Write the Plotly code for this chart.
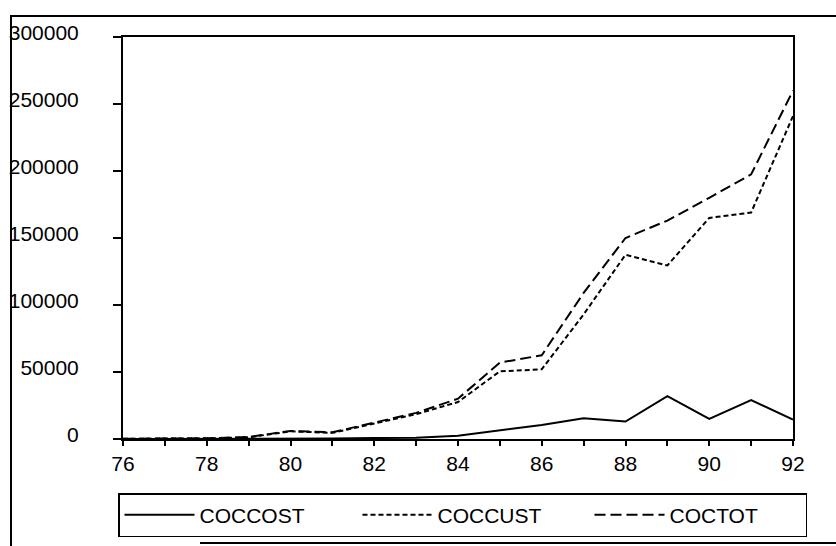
import plotly.graph_objects as go

# Years 1976-1992 (two-digit labels on the axis)
years = [76, 77, 78, 79, 80, 81, 82, 83, 84, 85, 86, 87, 88, 89, 90, 91, 92]

coccost = [0, 0, 100, 200, 300, 400, 700, 1000, 2500, 6300, 10500, 15500, 13000, 32000, 15000, 29000, 14500]
coccust = [200, 300, 400, 1300, 5700, 4600, 11800, 18500, 27600, 50500, 52000, 93000, 137500, 129500, 165000, 169000, 241000]
coctot = [200, 300, 500, 1500, 6000, 5000, 12500, 19500, 30100, 57000, 62500, 109000, 150000, 163000, 180000, 197500, 260000]

y_ticks = [0, 50000, 100000, 150000, 200000, 250000, 300000]
x_ticks = [76, 78, 80, 82, 84, 86, 88, 90, 92]

W, H = 836, 546
L, R, T, B = 123, 793, 37, 439
FONT = "Liberation Sans, Arial, sans-serif"


def px_x(px):
    return (px - L) / (R - L)


def px_y(py):
    return (B - py) / (B - T)


fig = go.Figure()
fig.add_trace(go.Scatter(x=years, y=coccost, name="COCCOST", mode="lines", legendwidth=153,
                         line=dict(color="black", width=2, dash="solid")))
fig.add_trace(go.Scatter(x=years, y=coccust, name="COCCUST", mode="lines", legendwidth=147,
                         line=dict(color="black", width=2, dash="5px,3px")))
fig.add_trace(go.Scatter(x=years, y=coctot, name="COCTOT", mode="lines", legendwidth=131,
                         line=dict(color="black", width=2, dash="11px,5px")))

# outer frame around the whole chart
frame = dict(type="line", xref="paper", yref="paper", line=dict(color="black", width=2))
shapes = [
    dict(frame, x0=px_x(10), x1=px_x(836), y0=px_y(16), y1=px_y(16)),
    dict(frame, x0=px_x(11), x1=px_x(11), y0=px_y(16), y1=px_y(546)),
    dict(frame, x0=px_x(200), x1=px_x(836), y0=px_y(543), y1=px_y(543)),
]

fig.update_layout(
    width=W, height=H,
    margin=dict(l=L, r=W - R, t=T, b=H - B, pad=0, autoexpand=False),
    paper_bgcolor="white", plot_bgcolor="white",
    font=dict(family=FONT, size=21, color="black"),
    showlegend=True,
    legend=dict(
        orientation="h", x=px_x(118), y=px_y(493), xanchor="left", yanchor="top",
        bordercolor="black", borderwidth=1.5, bgcolor="white",
        font=dict(family=FONT, size=21, color="black"),
        itemwidth=70, entrywidthmode="pixels",
        tracegroupgap=0, itemclick=False,
    ),
    shapes=shapes,
    xaxis=dict(
        range=[76, 92], tickvals=x_ticks, ticktext=[str(v) for v in x_ticks],
        showline=True, linecolor="black", linewidth=2, mirror=True,
        ticks="outside", ticklen=5, tickwidth=1.5, tickcolor="black",
        minor=dict(dtick=1, ticks="outside", ticklen=5, tickwidth=1.5, tickcolor="black"),
        showgrid=False, zeroline=False, ticklabelstandoff=0,
    ),
    yaxis=dict(
        range=[0, 300000], tickvals=y_ticks, tickformat="d",
        showline=True, linecolor="black", linewidth=2, mirror=True,
        ticks="outside", ticklen=8, tickwidth=1.5, tickcolor="black",
        showgrid=False, zeroline=False, ticklabelstandoff=30, ticklabelshift=-4,
    ),
)

fig.write_html("out.html")
